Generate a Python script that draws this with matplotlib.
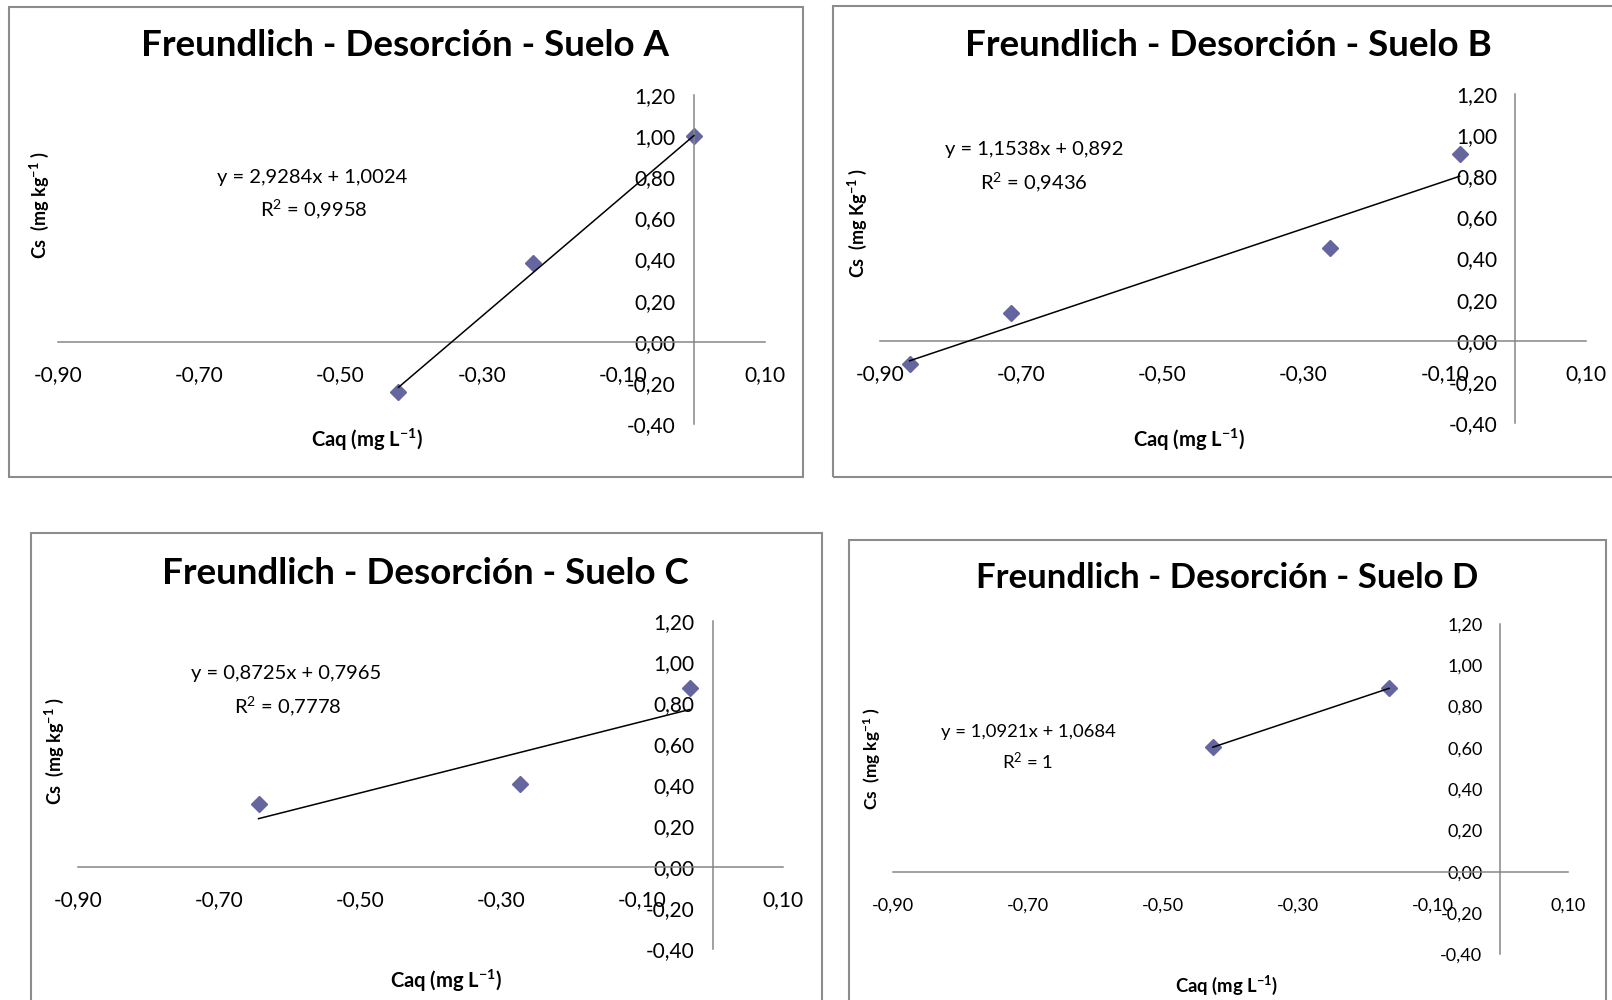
import numpy as np
import matplotlib.pyplot as plt
from matplotlib.patches import Rectangle

plt.rcParams['font.family'] = ['Lato', 'DejaVu Sans']
plt.rcParams['mathtext.fontset'] = 'custom'
plt.rcParams['mathtext.rm'] = 'Lato'
plt.rcParams['mathtext.bf'] = 'Lato:bold'
plt.rcParams['mathtext.default'] = 'regular'

# data
soils = ['A', 'B', 'C', 'D']
caq_a = [-0.418, -0.228, 0.0]
cs_a = [-0.243, 0.382, 1.0]
caq_b = [-0.858, -0.715, -0.262, -0.079]
cs_b = [-0.114, 0.133, 0.450, 0.909]
caq_c = [-0.644, -0.273, -0.033]
cs_c = [0.304, 0.402, 0.874]
caq_d = [-0.426, -0.165]
cs_d = [0.604, 0.888]

slopes = [2.9284, 1.1538, 0.8725, 1.0921]
intercepts = [1.0024, 0.892, 0.7965, 1.0684]
eq_texts = ['y = 2,9284x + 1,0024', 'y = 1,1538x + 0,892',
            'y = 0,8725x + 0,7965', 'y = 1,0921x + 1,0684']
r2_texts = ['R$^{2}$ = 0,9958', 'R$^{2}$ = 0,9436', 'R$^{2}$ = 0,7778', 'R$^{2}$ = 1']
ylabels = ['Cs  (mg kg$^{-1}$ )', 'Cs  (mg Kg$^{-1}$ )',
           'Cs  (mg kg$^{-1}$ )', 'Cs  (mg kg$^{-1}$ )']
xlabel = 'Caq (mg L$^{-1}$)'

x_ticks = [-0.9, -0.7, -0.5, -0.3, -0.1, 0.1]
y_ticks = [-0.4, -0.2, 0.0, 0.2, 0.4, 0.6, 0.8, 1.0, 1.2]

xs = [caq_a, caq_b, caq_c, caq_d]
ys = [cs_a, cs_b, cs_c, cs_d]

W, H = 1612, 1000
fig = plt.figure(figsize=(W / 100, H / 100), dpi=100)

# layout in pixels: axes box (left, right, top, bottom), border (l, t, r, b),
# title, equation, r2, xlabel, ylabel centres; fonts = (title, ticks, eq, xlabel, ylabel)
layout = [
    dict(ax=(57.9, 764.5, 95.0, 424.0), border=(9, 7, 803, 477),
         title=(405, 46), eq=(312, 177), r2=(314, 209), xl=(367, 440), yl=(39, 205),
         fonts=(26.5, 15, 14.5, 14.5, 13)),
    dict(ax=(880, 1586, 94.3, 422.8), border=(833, 6, 1640, 477),
         title=(1228, 46), eq=(1034, 150), r2=(1034, 182), xl=(1189, 440), yl=(857, 223),
         fonts=(26.5, 15, 14.5, 14.5, 13)),
    dict(ax=(77.9, 783.4, 621.0, 948.6), border=(31, 533, 822, 1040),
         title=(425, 574), eq=(286, 673), r2=(288, 706), xl=(446, 981), yl=(54, 751),
         fonts=(26.5, 15, 14.5, 14.5, 13)),
    dict(ax=(892.9, 1568, 624.0, 954.2), border=(849, 540, 1606, 1040),
         title=(1227, 578), eq=(1028, 732), r2=(1028, 762), xl=(1227, 985), yl=(872, 758),
         fonts=(25, 13, 13.3, 13.3, 12.4)),
]

def fx(px):
    return px / W

def fy(py):
    return 1 - py / H

for i, lay in enumerate(layout):
    f_title, f_tick, f_eq, f_xl, f_yl = lay['fonts']
    l, r, t, b = lay['ax']
    ax = fig.add_axes([fx(l), fy(b), (r - l) / W, (b - t) / H])
    ax.set_xlim(-0.9, 0.1)
    ax.set_ylim(-0.4, 1.2)
    ax.patch.set_visible(False)
    ax.spines['left'].set_position(('data', 0))
    ax.spines['bottom'].set_position(('data', 0))
    ax.spines['top'].set_visible(False)
    ax.spines['right'].set_visible(False)
    for s in ['left', 'bottom']:
        ax.spines[s].set_color('#868686')
        ax.spines[s].set_linewidth(1.1)
    ax.set_xticks(x_ticks)
    ax.set_xticklabels([f'{v:.2f}'.replace('.', ',') for v in x_ticks])
    ax.set_yticks(y_ticks)
    ax.set_yticklabels([f'{v:.2f}'.replace('.', ',') for v in y_ticks])
    ax.tick_params(axis='x', length=0, pad=18 - (f_tick - 14), labelsize=f_tick, colors='black')
    ax.tick_params(axis='y', length=0, pad=13, labelsize=f_tick, colors='black')

    x = np.array(xs[i])
    ax.plot(x, ys[i], linestyle='none', marker='D', markersize=8.5,
            color='#65659F', zorder=2, clip_on=False)
    xline = np.array([x.min(), x.max()])
    ax.plot(xline, slopes[i] * xline + intercepts[i], color='black',
            linewidth=1.1, zorder=3, clip_on=False)

    bl, bt, br, bb = lay['border']
    fig.add_artist(Rectangle((fx(bl), fy(bb)), (br - bl) / W, (bb - bt) / H,
                             transform=fig.transFigure, fill=False,
                             edgecolor='#8C8C8C', linewidth=1.5))

    fig.text(fx(lay['title'][0]), fy(lay['title'][1]),
             f'Freundlich - Desorción - Suelo {soils[i]}',
             ha='center', va='center', fontsize=f_title, fontweight='bold')
    fig.text(fx(lay['eq'][0]), fy(lay['eq'][1]), eq_texts[i],
             ha='center', va='center', fontsize=f_eq)
    fig.text(fx(lay['r2'][0]), fy(lay['r2'][1]), r2_texts[i],
             ha='center', va='center', fontsize=f_eq)
    fig.text(fx(lay['xl'][0]), fy(lay['xl'][1]), xlabel,
             ha='center', va='center', fontsize=f_xl, fontweight='bold')
    fig.text(fx(lay['yl'][0]), fy(lay['yl'][1]), ylabels[i],
             ha='center', va='center', fontsize=f_yl, fontweight='bold',
             rotation=90)

fig.savefig('out.png', dpi=100)
